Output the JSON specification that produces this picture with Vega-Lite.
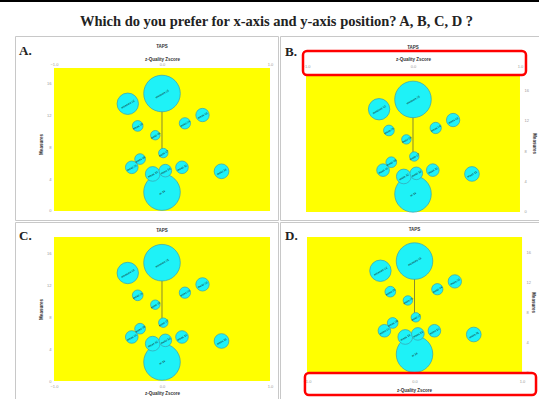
{
  "$schema": "https://vega.github.io/schema/vega-lite/v6.json",
  "padding": 0,
  "background": "white",
  "datasets": {
    "bubbles": [
      {"id": 1, "x": 0, "y": 14.79, "n": 105, "lab": "measure 01"},
      {"id": 14, "x": 0, "y": 2.38, "n": 105, "lab": "m 14"},
      {"id": 2, "x": -0.317, "y": 13.5, "n": 36, "lab": "measure 02"},
      {"id": 3, "x": 0.375, "y": 12.08, "n": 14, "lab": "meas 03"},
      {"id": 4, "x": 0.212, "y": 11.04, "n": 10, "lab": "meas 04"},
      {"id": 5, "x": -0.225, "y": 10.71, "n": 9, "lab": "meas 05"},
      {"id": 6, "x": -0.062, "y": 9.54, "n": 7, "lab": "meas 06"},
      {"id": 7, "x": 0.012, "y": 7.29, "n": 7, "lab": "meas 07"},
      {"id": 9, "x": -0.28, "y": 5.5, "n": 12.5, "lab": "meas 09"},
      {"id": 8, "x": -0.203, "y": 6.54, "n": 9, "lab": "meas 08"},
      {"id": 10, "x": 0.185, "y": 5.5, "n": 12.5, "lab": "meas 10"},
      {"id": 11, "x": 0.551, "y": 5.0, "n": 17, "lab": "meas 11"},
      {"id": 12, "x": -0.086, "y": 4.67, "n": 17, "lab": "meas 12"},
      {"id": 13, "x": 0.031, "y": 5.08, "n": 12.5, "lab": "meas 13"}
    ]
  },
  "config": {
    "view": {"stroke": "#c8c8c8", "fill": "white", "strokeWidth": 1},
    "axis": {"grid": false, "domain": false, "tickSize": 0, "labelFontSize": 4, "labelColor": "#999", "labelPadding": 2, "labelOverlap": false, "labelBound": false, "titleFontSize": 4.5, "titleFontWeight": "bold", "titleColor": "#333", "minExtent": 0, "maxExtent": 200, "labelFont": "Liberation Sans", "titleFont": "Liberation Sans", "ticks": false},
    "title": {"font": "Liberation Serif", "fontSize": 13, "fontWeight": "bold", "anchor": "start", "color": "#222"},
    "concat": {"spacing": 0}
  },
  "vconcat": [
    {
      "width": 539, "height": 2,
      "view": {"fill": "black", "stroke": null},
      "data": {"values": [{}]},
      "mark": {"type": "rect", "color": "black"}
    },
    {
      "hconcat": [
        {
          "width": 14, "height": 10,
          "view": {"fill": null, "stroke": null},
          "data": {"values": [{}]},
          "mark": {"type": "point", "opacity": 0}
        },
        {
          "vconcat": [
            {
              "width": 523, "height": 27,
              "data": {"values": [{"q": "Which do you prefer for x-axis and y-axis position? A, B, C, D ?"}]},
              "mark": {"type": "text", "font": "Liberation Serif", "fontSize": 14.5, "fontWeight": "bold", "color": "#222"},
              "encoding": {"text": {"field": "q"}}
            },
            {
              "hconcat": [
                {
                  "width": 263, "height": 184,
                  "title": {"text": "A.", "offset": -22, "dx": 4},
                  "layer": [
                    {"data": {"values": [{}]}, "mark": {"type": "rect", "color": "#ffff00"},
                     "encoding": {"x": {"datum": -1, "type": "quantitative", "scale": {"domain": [-1.361, 1.074], "nice": false, "zero": false}}, "x2": {"datum": 1},
                                  "y": {"datum": 0, "type": "quantitative", "scale": {"domain": [-1.133, 22.03], "nice": false, "zero": false}}, "y2": {"datum": 18}}},
                    {"data": {"values": [{}]}, "mark": {"type": "rule", "color": "#6b6b3a", "strokeWidth": 0.8},
                     "encoding": {"x": {"datum": 0, "type": "quantitative"}, "y": {"datum": 14.79, "type": "quantitative"}, "y2": {"datum": 7.29}}},
                    {"data": {"name": "bubbles"}, "mark": {"type": "circle", "fill": "#1ef2f7", "stroke": "#3a9fb0", "strokeWidth": 0.7, "opacity": 1},
                     "encoding": {
                       "x": {"field": "x", "type": "quantitative", "scale": {"domain": [-1.361, 1.074], "nice": false, "zero": false},
                             "axis": {"orient": "top", "offset": -32, "values": [-1, 0, 1], "title": "z-Quality Zscore", "titleX": 147, "titleY": -9, "titleBaseline": "middle", "labelPadding": 2}},
                       "y": {"field": "y", "type": "quantitative", "scale": {"domain": [-1.133, 22.03], "nice": false, "zero": false},
                             "axis": {"orient": "left", "offset": -39, "values": [0,1,2,3,4,5,6,7,8,9,10,11,12,13,14,15,16,17,18], "labelOverlap": false, "title": "Measures", "titleX": -13, "titleY": 108, "titleAngle": 270, "titleBaseline": "middle", "labelPadding": 3}},
                       "size": {"field": "n", "type": "quantitative", "scale": {"domain": [0, 100], "range": [0, 1273]}, "legend": null}}},
                    {"data": {"name": "bubbles"}, "mark": {"type": "text", "angle": 330, "fontSize": 2.8, "color": "#111"},
                     "encoding": {"x": {"field": "x", "type": "quantitative"}, "y": {"field": "y", "type": "quantitative"}, "text": {"field": "lab"}}},
                    {"data": {"values": [{"t": "TAPS"}]}, "mark": {"type": "text", "fontSize": 4.5, "fontWeight": "bold", "color": "#333"},
                     "encoding": {"x": {"datum": 0, "type": "quantitative"}, "y": {"datum": 20.65, "type": "quantitative"}, "text": {"field": "t"}}}
                  ]
                },
                {
                  "width": 260, "height": 184,
                  "title": {"text": "B.", "offset": -23, "dx": 5},
                  "layer": [
                    {"data": {"values": [{}]}, "mark": {"type": "rect", "color": "#ffff00"},
                     "encoding": {"x": {"datum": -1, "type": "quantitative", "scale": {"domain": [-1.243, 1.187], "nice": false, "zero": false}}, "x2": {"datum": 1},
                                  "y": {"datum": 0, "type": "quantitative", "scale": {"domain": [-1.051, 23.12], "nice": false, "zero": false}}, "y2": {"datum": 18}}},
                    {"data": {"values": [{}]}, "mark": {"type": "rule", "color": "#6b6b3a", "strokeWidth": 0.8},
                     "encoding": {"x": {"datum": 0, "type": "quantitative"}, "y": {"datum": 14.79, "type": "quantitative"}, "y2": {"datum": 7.29}}},
                    {"data": {"name": "bubbles"}, "mark": {"type": "circle", "fill": "#1ef2f7", "stroke": "#3a9fb0", "strokeWidth": 0.7, "opacity": 1},
                     "encoding": {
                       "x": {"field": "x", "type": "quantitative", "scale": {"domain": [-1.243, 1.187], "nice": false, "zero": false},
                             "axis": {"orient": "top", "offset": -39, "values": [-1, 0, 1], "title": "z-Quality Zscore", "titleX": 133, "titleY": -16, "titleBaseline": "middle", "labelPadding": 7}},
                       "y": {"field": "y", "type": "quantitative", "scale": {"domain": [-1.051, 23.12], "nice": false, "zero": false},
                             "axis": {"orient": "right", "offset": -20, "values": [0,1,2,3,4,5,6,7,8,9,10,11,12,13,14,15,16,17,18], "labelOverlap": false, "title": "Measures", "titleX": 13, "titleY": 107, "titleAngle": 90, "titleBaseline": "middle", "labelPadding": 4}},
                       "size": {"field": "n", "type": "quantitative", "scale": {"domain": [0, 100], "range": [0, 1273]}, "legend": null}}},
                    {"data": {"name": "bubbles"}, "mark": {"type": "text", "angle": 330, "fontSize": 2.8, "color": "#111"},
                     "encoding": {"x": {"field": "x", "type": "quantitative"}, "y": {"field": "y", "type": "quantitative"}, "text": {"field": "lab"}}},
                    {"data": {"values": [{"t": "TAPS"}]}, "mark": {"type": "text", "fontSize": 4.5, "fontWeight": "bold", "color": "#333"},
                     "encoding": {"x": {"datum": 0, "type": "quantitative"}, "y": {"datum": 21.58, "type": "quantitative"}, "text": {"field": "t"}}},
                    {"data": {"values": [{}]}, "mark": {"type": "rect", "fillOpacity": 0, "stroke": "#ff0000", "strokeWidth": 2.5, "cornerRadius": 4},
                     "encoding": {"x": {"datum": -1.028, "type": "quantitative"}, "x2": {"datum": 1.056}, "y": {"datum": 18, "type": "quantitative"}, "y2": {"datum": 21.15}}}
                  ]
                }
              ]
            },
            {
              "hconcat": [
                {
                  "width": 263, "height": 184,
                  "title": {"text": "C.", "offset": -21, "dx": 4},
                  "layer": [
                    {"data": {"values": [{}]}, "mark": {"type": "rect", "color": "#ffff00"},
                     "encoding": {"x": {"datum": -1, "type": "quantitative", "scale": {"domain": [-1.361, 1.074], "nice": false, "zero": false}}, "x2": {"datum": 1},
                                  "y": {"datum": 0, "type": "quantitative", "scale": {"domain": [-3.125, 19.875], "nice": false, "zero": false}}, "y2": {"datum": 18}}},
                    {"data": {"values": [{}]}, "mark": {"type": "rule", "color": "#6b6b3a", "strokeWidth": 0.8},
                     "encoding": {"x": {"datum": 0, "type": "quantitative"}, "y": {"datum": 14.79, "type": "quantitative"}, "y2": {"datum": 7.29}}},
                    {"data": {"name": "bubbles"}, "mark": {"type": "circle", "fill": "#1ef2f7", "stroke": "#3a9fb0", "strokeWidth": 0.7, "opacity": 1},
                     "encoding": {
                       "x": {"field": "x", "type": "quantitative", "scale": {"domain": [-1.361, 1.074], "nice": false, "zero": false},
                             "axis": {"orient": "bottom", "offset": -25, "values": [-1, 0, 1], "title": "z-Quality Zscore", "titleX": 147, "titleY": 12, "titleBaseline": "middle", "labelPadding": 3}},
                       "y": {"field": "y", "type": "quantitative", "scale": {"domain": [-3.125, 19.875], "nice": false, "zero": false},
                             "axis": {"orient": "left", "offset": -39, "values": [0,1,2,3,4,5,6,7,8,9,10,11,12,13,14,15,16,17,18], "labelOverlap": false, "title": "Measures", "titleX": -13, "titleY": 87, "titleAngle": 270, "titleBaseline": "middle", "labelPadding": 3}},
                       "size": {"field": "n", "type": "quantitative", "scale": {"domain": [0, 100], "range": [0, 1273]}, "legend": null}}},
                    {"data": {"name": "bubbles"}, "mark": {"type": "text", "angle": 330, "fontSize": 2.8, "color": "#111"},
                     "encoding": {"x": {"field": "x", "type": "quantitative"}, "y": {"field": "y", "type": "quantitative"}, "text": {"field": "lab"}}},
                    {"data": {"values": [{"t": "TAPS"}]}, "mark": {"type": "text", "fontSize": 4.5, "fontWeight": "bold", "color": "#333"},
                     "encoding": {"x": {"datum": 0, "type": "quantitative"}, "y": {"datum": 18.75, "type": "quantitative"}, "text": {"field": "t"}}}
                  ]
                },
                {
                  "width": 260, "height": 184,
                  "title": {"text": "D.", "offset": -21, "dx": 5},
                  "layer": [
                    {"data": {"values": [{}]}, "mark": {"type": "rect", "color": "#ffff00"},
                     "encoding": {"x": {"datum": -1, "type": "quantitative", "scale": {"domain": [-1.251, 1.167], "nice": false, "zero": false}}, "x2": {"datum": 1},
                                  "y": {"datum": 0, "type": "quantitative", "scale": {"domain": [-4.533, 20], "nice": false, "zero": false}}, "y2": {"datum": 18}}},
                    {"data": {"values": [{}]}, "mark": {"type": "rule", "color": "#6b6b3a", "strokeWidth": 0.8},
                     "encoding": {"x": {"datum": 0, "type": "quantitative"}, "y": {"datum": 14.79, "type": "quantitative"}, "y2": {"datum": 7.29}}},
                    {"data": {"name": "bubbles"}, "mark": {"type": "circle", "fill": "#1ef2f7", "stroke": "#3a9fb0", "strokeWidth": 0.7, "opacity": 1},
                     "encoding": {
                       "x": {"field": "x", "type": "quantitative", "scale": {"domain": [-1.251, 1.167], "nice": false, "zero": false},
                             "axis": {"orient": "bottom", "offset": -34, "values": [-1, 0, 1], "title": "z-Quality Zscore", "titleX": 134, "titleY": 18, "titleBaseline": "middle", "labelPadding": 7}},
                       "y": {"field": "y", "type": "quantitative", "scale": {"domain": [-4.533, 20], "nice": false, "zero": false},
                             "axis": {"orient": "right", "offset": -18, "values": [0,1,2,3,4,5,6,7,8,9,10,11,12,13,14,15,16,17,18], "labelOverlap": false, "title": "Measures", "titleX": 10, "titleY": 80, "titleAngle": 90, "titleBaseline": "middle", "labelPadding": 4}},
                       "size": {"field": "n", "type": "quantitative", "scale": {"domain": [0, 100], "range": [0, 1273]}, "legend": null}}},
                    {"data": {"name": "bubbles"}, "mark": {"type": "text", "angle": 330, "fontSize": 2.8, "color": "#111"},
                     "encoding": {"x": {"field": "x", "type": "quantitative"}, "y": {"field": "y", "type": "quantitative"}, "text": {"field": "lab"}}},
                    {"data": {"values": [{"t": "TAPS"}]}, "mark": {"type": "text", "fontSize": 4.5, "fontWeight": "bold", "color": "#333"},
                     "encoding": {"x": {"datum": 0, "type": "quantitative"}, "y": {"datum": 18.93, "type": "quantitative"}, "text": {"field": "t"}}},
                    {"data": {"values": [{}]}, "mark": {"type": "rect", "fillOpacity": 0, "stroke": "#ff0000", "strokeWidth": 2.5, "cornerRadius": 4},
                     "encoding": {"x": {"datum": -1.019, "type": "quantitative"}, "x2": {"datum": 1.13}, "y": {"datum": -0.133, "type": "quantitative"}, "y2": {"datum": -3.067}}}
                  ]
                }
              ]
            }
          ]
        }
      ]
    }
  ],
  "spacing": 6
}
